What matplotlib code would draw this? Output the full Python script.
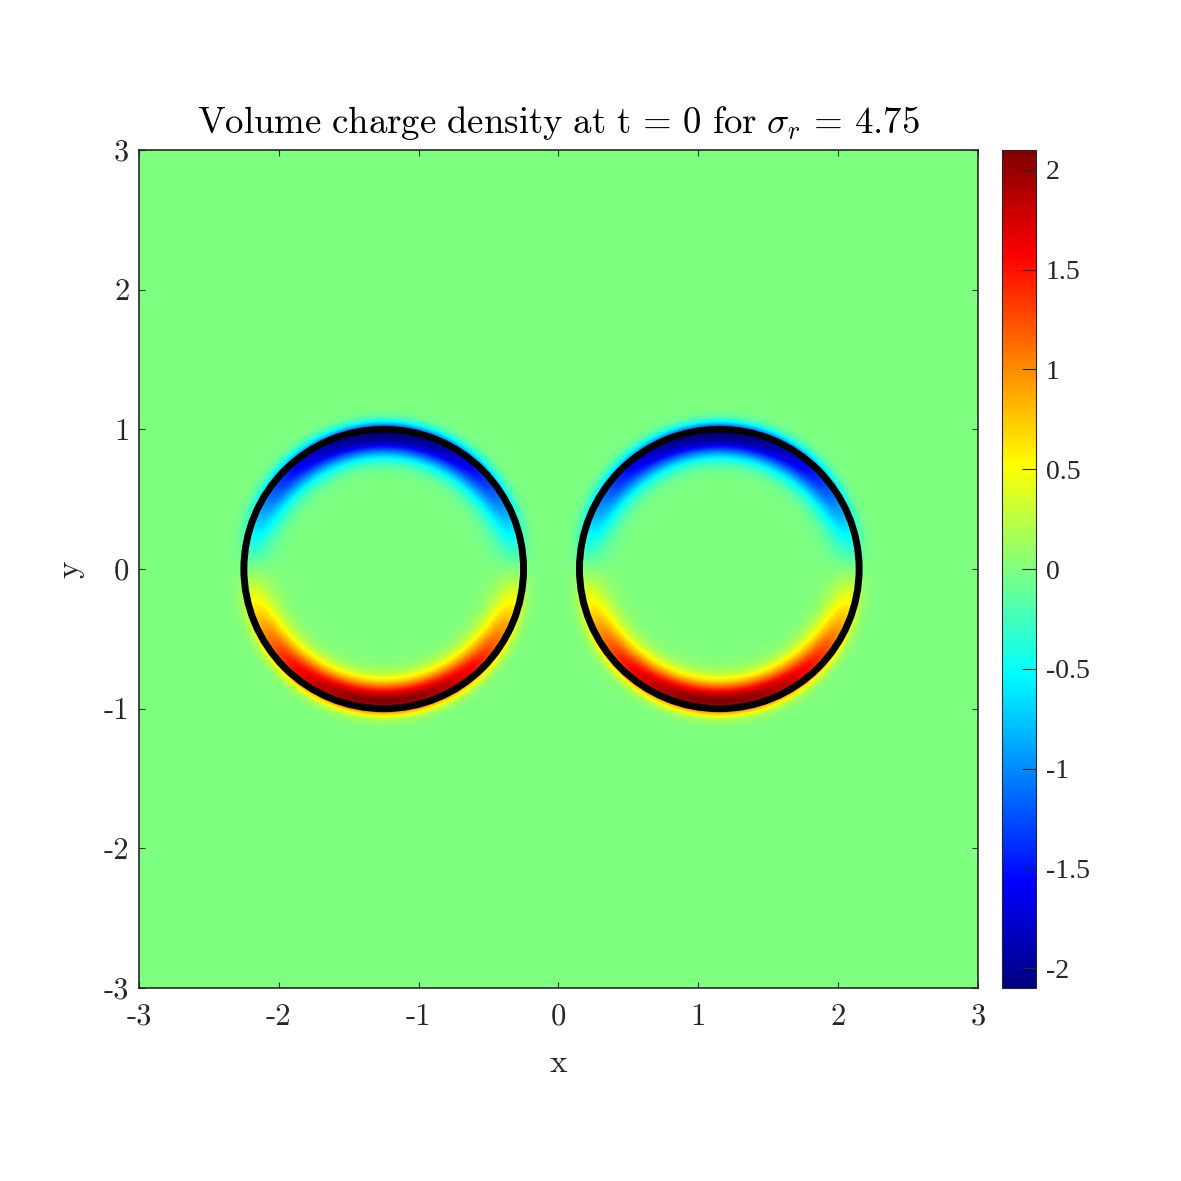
import numpy as np
import matplotlib.pyplot as plt
from matplotlib.patches import Circle
from matplotlib.colors import LinearSegmentedColormap

# geometry of the two cylinders
centers_x = [-1.25, 1.15]
centers_y = [0.0, 0.0]
radius = 1.0

# charge band: peak value, where the band peaks and its widths
peak = 2.1
band_r = 0.955
band_in = 0.1
band_out = 0.06

clim = [-2.1, 2.1]
xy_ticks = [-3, -2, -1, 0, 1, 2, 3]
cb_ticks = [-2, -1.5, -1, -0.5, 0, 0.5, 1, 1.5, 2]
cb_labels = ["-2", "-1.5", "-1", "-0.5", "0", "0.5", "1", "1.5", "2"]

plt.rcParams['mathtext.fontset'] = 'cm'
plt.rcParams['axes.unicode_minus'] = False

# matlab flavoured jet (odd N so that 0 sits inside one colour)
jet = LinearSegmentedColormap.from_list("mjet", [
    (0.0, (0, 0, 0.5)), (0.125, (0, 0, 1)), (0.375, (0, 1, 1)),
    (0.625, (1, 1, 0)), (0.875, (1, 0, 0)), (1.0, (0.5, 0, 0))], N=255)


def density():
    x = np.linspace(-3, 3, 801)
    X, Y = np.meshgrid(x, x)
    rho = np.zeros_like(X)
    for cx, cy in zip(centers_x, centers_y):
        r = np.hypot(X - cx, Y - cy)
        th = np.arctan2(Y - cy, X - cx)
        s = np.where(r < band_r, band_in, band_out)
        rho += -peak * np.sin(th) * np.exp(-0.5 * ((r - band_r) / s) ** 2)
    return rho


def main():
    fig = plt.figure(figsize=(11.81, 11.81), dpi=100)
    ax = fig.add_axes([0.1177, 0.1634, 0.7104, 0.7096])
    cax = fig.add_axes([0.8484, 0.1634, 0.0288, 0.7096])

    im = ax.imshow(density(), extent=[-3, 3, -3, 3], origin="lower",
                   cmap=jet, vmin=clim[0], vmax=clim[1],
                   interpolation="bilinear", aspect="auto")
    for cx, cy in zip(centers_x, centers_y):
        ax.add_patch(Circle((cx, cy), radius, fill=False,
                            edgecolor="black", lw=5))

    ax.set_xlim(-3, 3)
    ax.set_ylim(-3, 3)
    ax.set_xticks(xy_ticks)
    ax.set_yticks(xy_ticks)
    ax.set_xticklabels([str(t) for t in xy_ticks], family="cmr10", fontsize=22)
    ax.set_yticklabels([str(t) for t in xy_ticks], family="cmr10", fontsize=22)
    ax.tick_params(direction="in", top=True, right=True, length=4,
                   width=0.8, color="#262626", labelcolor="#262626")
    ax.tick_params(axis="x", pad=11)
    ax.tick_params(axis="y", pad=7)
    for sp in ax.spines.values():
        sp.set_color("#262626")
        sp.set_linewidth(1.2)
    ax.set_xlabel("x", family="cmr10", fontsize=24, color="#262626",
                  labelpad=13)
    ax.set_ylabel("y", family="cmr10", fontsize=24, color="#262626",
                  labelpad=14)
    ax.set_title(r"$\mathrm{Volume\ charge\ density\ at\ t}\,=\,0\ \mathrm{for}\ "
                 r"\sigma_r\,=\,4.75$", fontsize=26.5, pad=12)

    cb = fig.colorbar(im, cax=cax, ticks=cb_ticks)
    cb.ax.set_yticklabels(cb_labels, family="Liberation Serif", fontsize=20)
    cb.ax.tick_params(direction="in", length=10, width=0.8, color="#262626",
                      labelcolor="#262626", pad=7)
    cb.outline.set_edgecolor("#262626")

    fig.savefig("out.png", dpi=100)


if __name__ == "__main__":
    main()
